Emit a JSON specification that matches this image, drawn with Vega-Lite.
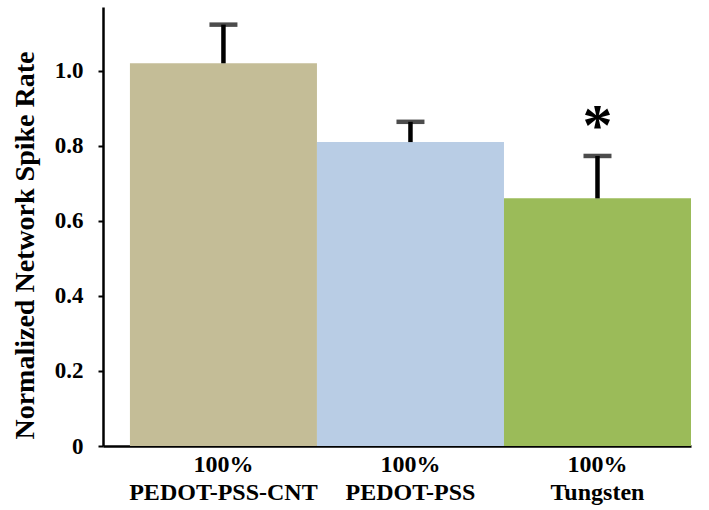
{
  "$schema": "https://vega.github.io/schema/vega-lite/v6.json",
  "autosize": "none",
  "width": 588,
  "height": 439,
  "padding": {"left": 103, "top": 7, "right": 18, "bottom": 64},
  "background": "white",
  "config": {"view": {"stroke": null}, "font": "'Liberation Serif', 'Times New Roman', serif"},
  "data": {
    "values": [
      {"material": "PEDOT-PSS-CNT", "rate": 1.02, "upper": 1.123, "mark": ""},
      {"material": "PEDOT-PSS", "rate": 0.81, "upper": 0.864, "mark": ""},
      {"material": "Tungsten", "rate": 0.66, "upper": 0.773, "mark": "*"}
    ]
  },
  "encoding": {
    "x": {
      "field": "material",
      "type": "nominal",
      "sort": null,
      "scale": {"paddingInner": 0, "paddingOuter": 0.072, "align": 1},
      "axis": {
        "title": null,
        "labelAngle": 0,
        "ticks": false,
        "domainColor": "black",
        "domainWidth": 2.5,
        "labelExpr": "['100%', datum.label]",
        "labelFont": "'Liberation Serif', 'Times New Roman', serif",
        "labelFontWeight": "bold",
        "labelFontSize": 24,
        "labelLineHeight": 28,
        "labelLimit": 0,
        "labelColor": "black",
        "labelPadding": 6
      }
    }
  },
  "layer": [
    {
      "mark": {"type": "bar"},
      "encoding": {
        "y": {
          "field": "rate",
          "type": "quantitative",
          "scale": {"domain": [0, 1.17], "nice": false},
          "axis": {
            "title": "Normalized Network Spike Rate",
            "titleFont": "'Liberation Serif', 'Times New Roman', serif",
            "titleFontWeight": "bold",
            "titleFontSize": 28,
            "titleColor": "black",
            "titleX": -70,
            "titleY": 238,
            "titleBaseline": "alphabetic",
            "values": [0, 0.2, 0.4, 0.6, 0.8, 1.0],
            "labelExpr": "datum.value == 0 ? '0' : format(datum.value, '.1f')",
            "labelFont": "'Liberation Serif', 'Times New Roman', serif",
            "labelFontWeight": "bold",
            "labelFontSize": 23,
            "labelColor": "black",
            "labelPadding": 15,
            "tickSize": 5,
            "tickWidth": 2,
            "tickColor": "black",
            "domainColor": "black",
            "domainWidth": 2.5,
            "grid": false
          }
        },
        "color": {
          "field": "material",
          "type": "nominal",
          "scale": {"domain": ["PEDOT-PSS-CNT", "PEDOT-PSS", "Tungsten"], "range": ["#C4BD97", "#B9CDE5", "#9BBB59"]},
          "legend": null
        }
      }
    },
    {
      "mark": {"type": "rule", "color": "black", "strokeWidth": 4.5},
      "encoding": {
        "y": {"field": "rate", "type": "quantitative"},
        "y2": {"field": "upper"}
      }
    },
    {
      "mark": {"type": "tick", "color": "black", "size": 28, "thickness": 4.5, "orient": "horizontal"},
      "encoding": {
        "y": {"field": "upper", "type": "quantitative"}
      }
    },
    {
      "mark": {"type": "text", "font": "'Liberation Serif', 'Times New Roman', serif", "fontWeight": "bold", "fontSize": 60, "baseline": "alphabetic", "color": "black", "dy": -11},
      "encoding": {
        "y": {"field": "upper", "type": "quantitative"},
        "text": {"field": "mark"}
      }
    }
  ]
}
